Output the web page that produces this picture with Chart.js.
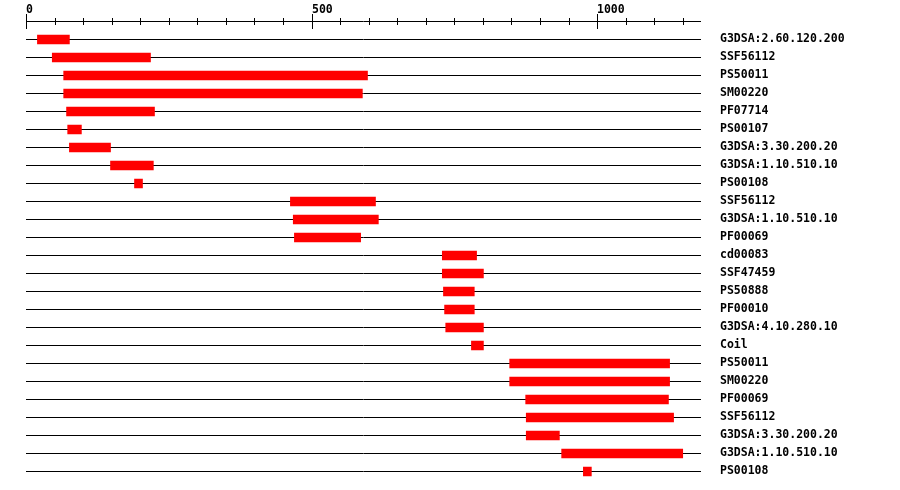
<!DOCTYPE html>
<html>
<head>
<meta charset="utf-8">
<script src="https://cdn.jsdelivr.net/npm/chart.js@4.4.0/dist/chart.umd.min.js"></script>
<style>
  html, body { margin:0; padding:0; background:#fff; overflow:hidden; }
  #wrap { position:relative; width:900px; height:490px; }
</style>
</head>
<body>
<div id="wrap"><canvas id="c"></canvas></div>
<script>
// Rows (top to bottom)
const labels = [
  'G3DSA:2.60.120.200','SSF56112','PS50011','SM00220','PF07714','PS00107',
  'G3DSA:3.30.200.20','G3DSA:1.10.510.10','PS00108','SSF56112','G3DSA:1.10.510.10',
  'PF00069','cd00083','SSF47459','PS50888','PF00010','G3DSA:4.10.280.10','Coil',
  'PS50011','SM00220','PF00069','SSF56112','G3DSA:3.30.200.20','G3DSA:1.10.510.10','PS00108'
];
const starts = [20,46,66,66,71,73,76,148,190,463,468,470,729,729,731,733,735,780,847,847,875,876,876,938,976];
const ends   = [76,218,598,589,225,97,148,223,204,612,617,586,789,801,785,785,801,801,1127,1127,1125,1134,934,1150,990];

// Axis
const xMax = 1182;
const tickStep = 50;
const majorTicks = [0, 500, 1000];

const font = "bold 11.5px 'DejaVu Sans Mono'";

// top ruler drawn from the x scale
const ruler = {
  id: 'ruler',
  afterDraw(chart) {
    const ctx = chart.ctx, x = chart.scales.x, a = chart.chartArea;
    const px = v => Math.round(x.getPixelForValue(v)) + 0.5;
    ctx.save();
    ctx.strokeStyle = '#000';
    ctx.lineWidth = 1;
    ctx.beginPath();
    ctx.moveTo(Math.round(a.left), 21.5);
    ctx.lineTo(Math.round(a.right), 21.5);
    for (let v = 0; v <= xMax; v += tickStep) {
      const p = px(v);
      if (majorTicks.includes(v)) { ctx.moveTo(p, 14); ctx.lineTo(p, 29); }
      else { ctx.moveTo(p, 18); ctx.lineTo(p, 25); }
    }
    ctx.stroke();
    ctx.fillStyle = '#000';
    ctx.font = font;
    ctx.textAlign = 'left';
    ctx.textBaseline = 'alphabetic';
    majorTicks.forEach(v => ctx.fillText(String(v), px(v) - 0.5, 12.5));
    ctx.restore();
  }
};

new Chart(document.getElementById('c'), {
  type: 'bar',
  data: {
    labels,
    datasets: [{
      data: starts.map((s, i) => [s, ends[i]]),
      backgroundColor: '#ff0000',
      borderWidth: 0,
      barThickness: 9
    }]
  },
  options: {
    indexAxis: 'y',
    responsive: true,
    maintainAspectRatio: false,
    animation: false,
    layout: { padding: { left: 26, top: 30.5, right: 0, bottom: 9.5 } },
    plugins: { legend: { display: false }, tooltip: { enabled: false } },
    scales: {
      x: { display: false, min: 0, max: xMax },
      y: {
        position: 'right',
        afterFit: s => { s.width = 199; s.paddingTop = 0; s.paddingBottom = 0; },
        border: { display: false },
        grid: { color: '#000', lineWidth: 1, offset: false, drawTicks: false },
        ticks: { color: '#000', padding: 19, font: { family: 'DejaVu Sans Mono', size: 11.5, weight: 'bold' } }
      }
    }
  },
  plugins: [ruler]
});
</script>
</body>
</html>
